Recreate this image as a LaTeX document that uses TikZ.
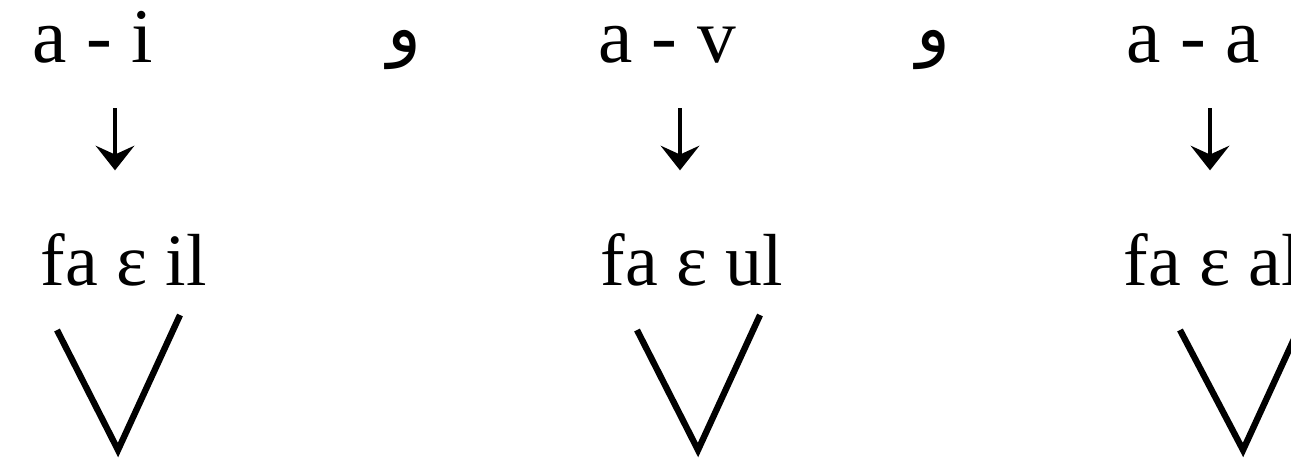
\documentclass[tikz,border=0pt]{standalone}
\usepackage{fontspec}
\setmainfont{Liberation Serif}
\newfontfamily\arabicfont[Script=Arabic]{DejaVu Sans}
\TeXXeTstate=1
\usetikzlibrary{arrows.meta}

\begin{document}
\begin{tikzpicture}[
  inner sep=0pt,
  pair/.style={anchor=base, font=\fontsize{22}{26}\selectfont},
  form/.style={anchor=base west, font=\fontsize{21}{25}\selectfont},
  conj/.style={font=\fontsize{20}{24}\selectfont\arabicfont},
  dnarrow/.style={-{Stealth[length=7pt,width=11pt,inset=2.5pt]}, line width=1pt, shorten <=0.45cm, shorten >=0.62cm},
  vee/.style={line width=1.8pt}]
\useasboundingbox (0,0) rectangle (12.91,-4.64);
\clip (0,0) rectangle (12.91,-4.64);
\foreach \idx/\tx/\fx/\ax/\lbl/\wrd in {1/0.93/0.40/1.15/a - i/fa ε il, 2/6.67/6.00/6.80/a - v/fa ε ul, 3/11.93/11.23/12.10/a - a/fa ε al}
 {
  \node[pair] (pair\idx) at (\tx,-0.62) {\lbl};
  \node[form] (form\idx) at (\fx,-2.85) {\wrd};
  \coordinate (col\idx) at (\ax,0);
  \draw[dnarrow] (pair\idx.south -| col\idx)--(form\idx.north -| col\idx);
 }

\node[conj] (and1) at (4.04,-0.50) {\beginR و\endR};
\node[conj] (and2) at (9.33,-0.50) {\beginR و\endR};

\foreach \lx/\bx/\rx in {0.57/1.18/1.80, 6.37/6.98/7.60, 11.80/12.43/13.05}
  \draw[vee] (\lx,-3.30)--(\bx,-4.50)--(\rx,-3.15);
\end{tikzpicture}
\end{document}
